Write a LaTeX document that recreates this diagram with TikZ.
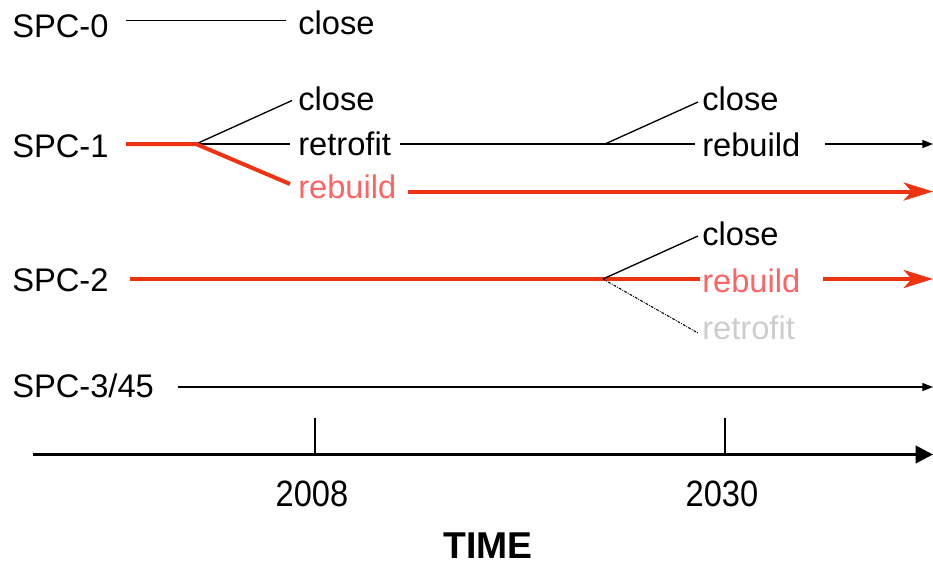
\documentclass[tikz,border=0pt]{standalone}
\usepackage{fontspec}
\setmainfont{Liberation Sans}
\usetikzlibrary{arrows.meta}
\definecolor{pathred}{RGB}{238,51,17}
\definecolor{textred}{RGB}{255,100,100}
\definecolor{fadegray}{RGB}{205,205,205}
\begin{document}
\begin{tikzpicture}[x=0.75pt,y=-0.75pt,
  lbl/.style={anchor=base west,inner sep=0pt,font=\fontsize{24.5}{28}\selectfont},
  yearlbl/.style={anchor=base,inner sep=0pt,font=\fontsize{27.5}{30}\selectfont,xscale=0.89},
  thin/.style={line width=1pt,black},
  chosen/.style={line width=3pt,pathred,line join=round},
  redarrow/.style={chosen,-{Stealth[length=22pt,width=13.5pt,inset=6pt]}},
  blackarrow/.style={thin,-{Triangle[length=8pt,width=6pt]}},
  dashdot/.style={line width=0.8pt,black,dash pattern=on 2pt off 1pt on 0.6pt off 1pt}]
\useasboundingbox (0,0) rectangle (933,565);

% row labels
\node[lbl] (spc0) at (12,37.5) {SPC-0};
\node[lbl] (spc1) at (12,157) {SPC-1};
\node[lbl] (spc2) at (12,291) {SPC-2};
\node[lbl] (spc3) at (12,397) {SPC-3/45};

% outcomes, first decision
\node[lbl] (close0) at (298,34.5) {close};
\node[lbl] (close1) at (298,110) {close};
\node[lbl] (retro1) at (298,155.5) {retrofit};
\node[lbl,text=textred] (reb1) at (298,198) {rebuild};

% outcomes, second decision
\node[lbl] (close1b) at (702,110) {close};
\node[lbl] (reb1b) at (702,156.5) {rebuild};
\node[lbl] (close2) at (702,245.5) {close};
\node[lbl,text=textred] (reb2) at (702,292.5) {rebuild};
\node[lbl,text=fadegray] (retro2) at (702,339) {retrofit};

% connector points
\coordinate (s0) at (126,20.5);
\coordinate (e0) at (286,20.5);
\coordinate (s1) at (126,144);
\coordinate (j1) at (196,144);
\coordinate (c1end) at (292,100.5);
\coordinate (r1end) at (290,144);
\coordinate (b1end) at (290,184);
\coordinate (r1s) at (400,144);
\coordinate (j1b) at (605,144);
\coordinate (c1bend) at (698,102);
\coordinate (r1bend) at (695,144);
\coordinate (a1s) at (825,144);
\coordinate (a1e) at (933,144);
\coordinate (b1s) at (408,191.5);
\coordinate (b1e) at (933,191.5);
\coordinate (s2) at (130,279);
\coordinate (j2) at (603,279);
\coordinate (e2) at (700,279);
\coordinate (c2end) at (698,236);
\coordinate (t2end) at (698,333);
\coordinate (a2s) at (823,279);
\coordinate (a2e) at (933,279);
\coordinate (s3) at (178,387);
\coordinate (e3) at (933,387);

% SPC-0
\draw[thin] (s0) -- (e0);

% SPC-1
\draw[thin] (j1) -- (c1end);
\draw[thin] (j1) -- (r1end);
\draw[chosen] (s1) -- (j1) -- (b1end);
\draw[thin] (r1s) -- (j1b) -- (r1bend);
\draw[thin] (j1b) -- (c1bend);
\draw[blackarrow] (a1s) -- (a1e);
\draw[redarrow] (b1s) -- (b1e);

% SPC-2
\draw[chosen] (s2) -- (e2);
\draw[thin] (j2) -- (c2end);
\draw[dashdot] (j2) -- (t2end);
\draw[redarrow] (a2s) -- (a2e);

% SPC-3/45
\draw[blackarrow] (s3) -- (e3);

% time axis
\coordinate (ax0) at (33,454.5);
\coordinate (ax1) at (933,454.5);
\coordinate (t1top) at (315,418);
\coordinate (t2top) at (725,418);
\draw[line width=2.2pt,-{Triangle[length=13pt,width=13pt]}] (ax0) -- (ax1);
\draw[line width=1.5pt] (t1top) -- (t1top |- ax0);
\draw[line width=1.5pt] (t2top) -- (t2top |- ax0);
\node[yearlbl] (y2008) at (312,506.5) {2008};
\node[yearlbl] (y2030) at (722,506.5) {2030};
\node[anchor=base,inner sep=0pt,font=\fontsize{28}{30}\selectfont\bfseries] (time) at (488,558) {TIME};
\end{tikzpicture}
\end{document}
